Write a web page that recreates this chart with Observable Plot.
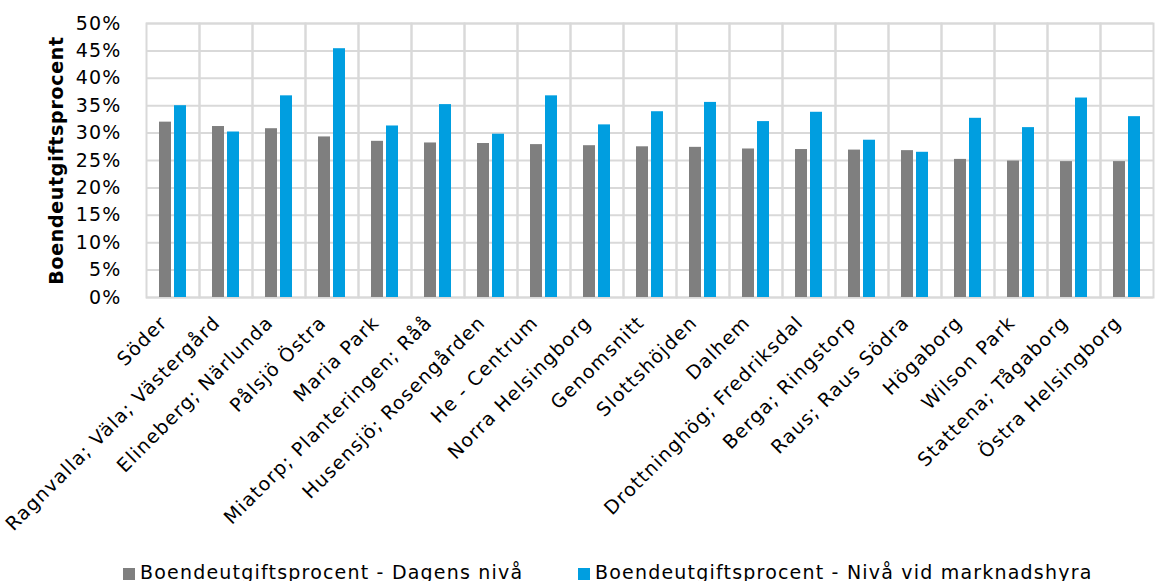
<!DOCTYPE html>
<html><head><meta charset="utf-8">
<script src="https://cdn.jsdelivr.net/npm/d3@7"></script>
<script src="https://cdn.jsdelivr.net/npm/@observablehq/plot@0.6"></script>
<style>
body{margin:0;background:#fff;font-family:"DejaVu Sans", sans-serif;}
#chart svg text{letter-spacing:1.2px;}
#legend{position:relative;height:25px;font-size:19px;color:#000;line-height:23px;letter-spacing:1.2px;}
#legend .item{position:absolute;top:5px;white-space:nowrap;}
#legend .sw{display:inline-block;width:12px;height:12px;margin-right:5px;vertical-align:-1px;}
</style></head><body><div id="chart"></div><div id="legend"></div><script>
const categories = ["Söder","Ragnvalla; Väla; Västergård","Elineberg; Närlunda","Pålsjö Östra","Maria Park","Miatorp; Planteringen; Råå","Husensjö; Rosengården","He - Centrum","Norra Helsingborg","Genomsnitt","Slottshöjden","Dalhem","Drottninghög; Fredriksdal","Berga; Ringstorp","Raus; Raus Södra","Högaborg","Wilson Park","Stattena; Tågaborg","Östra Helsingborg"];
const dagensNiva = [32.0,31.2,30.8,29.3,28.5,28.2,28.1,27.9,27.7,27.5,27.4,27.1,27.0,26.9,26.8,25.2,24.9,24.8,24.8];
const marknadshyra = [35.0,30.2,36.8,45.4,31.3,35.2,29.8,36.8,31.5,33.9,35.6,32.1,33.8,28.7,26.5,32.7,31.0,36.4,33.0];
const seriesNames = ["Boendeutgiftsprocent - Dagens nivå","Boendeutgiftsprocent - Nivå vid marknadshyra"];
const seriesColors = ["#7f7f7f","#009ee0"];
const yTicks = [0,0.05,0.10,0.15,0.20,0.25,0.30,0.35,0.40,0.45,0.50];
const yLabel = "Boendeutgiftsprocent";

const data = categories.flatMap((c,i)=>[
  {cat:c, series:seriesNames[0], value:dagensNiva[i]/100},
  {cat:c, series:seriesNames[1], value:marknadshyra[i]/100}
]);

const chart = Plot.plot({
  width:1156, height:556,
  marginLeft:142, marginRight:0, marginTop:23, marginBottom:259,
  style:{fontFamily:"'DejaVu Sans', sans-serif", fontSize:"19px", color:"#000", background:"#fff"},
  fx:{domain:categories, paddingInner:0, paddingOuter:0, label:null},
  x:{domain:seriesNames, paddingInner:0.22, paddingOuter:0.844, axis:null},
  y:{domain:[0,0.5], label:null},
  color:{domain:seriesNames, range:seriesColors},
  marks:[
    Plot.frame({stroke:"#d9d9d9", strokeWidth:2}),
    Plot.ruleY(yTicks, {stroke:"#d9d9d9", strokeWidth:2}),
    Plot.barY(data, {fx:"cat", x:"series", y:"value", fill:"series"}),
    Plot.axisY({ticks:yTicks, tickSize:0, tickPadding:25, tickFormat:d=>Math.round(d*100)+"%", label:yLabel, labelAnchor:"center", labelOffset:97, fontSize:19}),
    Plot.axisFx({anchor:"bottom", tickRotate:-45, tickSize:0, tickPadding:22, dx:-9, label:null, fontSize:19})
  ]
});
document.getElementById("chart").appendChild(chart);
chart.querySelectorAll('g[aria-label="y-axis label"] text').forEach(t=>{t.setAttribute("font-weight","bold"); t.style.letterSpacing="0.7px"; t.textContent = yLabel;});

const legend = document.getElementById("legend");
const lefts = [123, 578];
seriesNames.forEach((s,i)=>{
  const d = document.createElement("div");
  d.className="item"; d.style.left = lefts[i]+"px";
  d.innerHTML = `<span class="sw" style="background:${seriesColors[i]}"></span>${s}`;
  legend.appendChild(d);
});
</script></body></html>
